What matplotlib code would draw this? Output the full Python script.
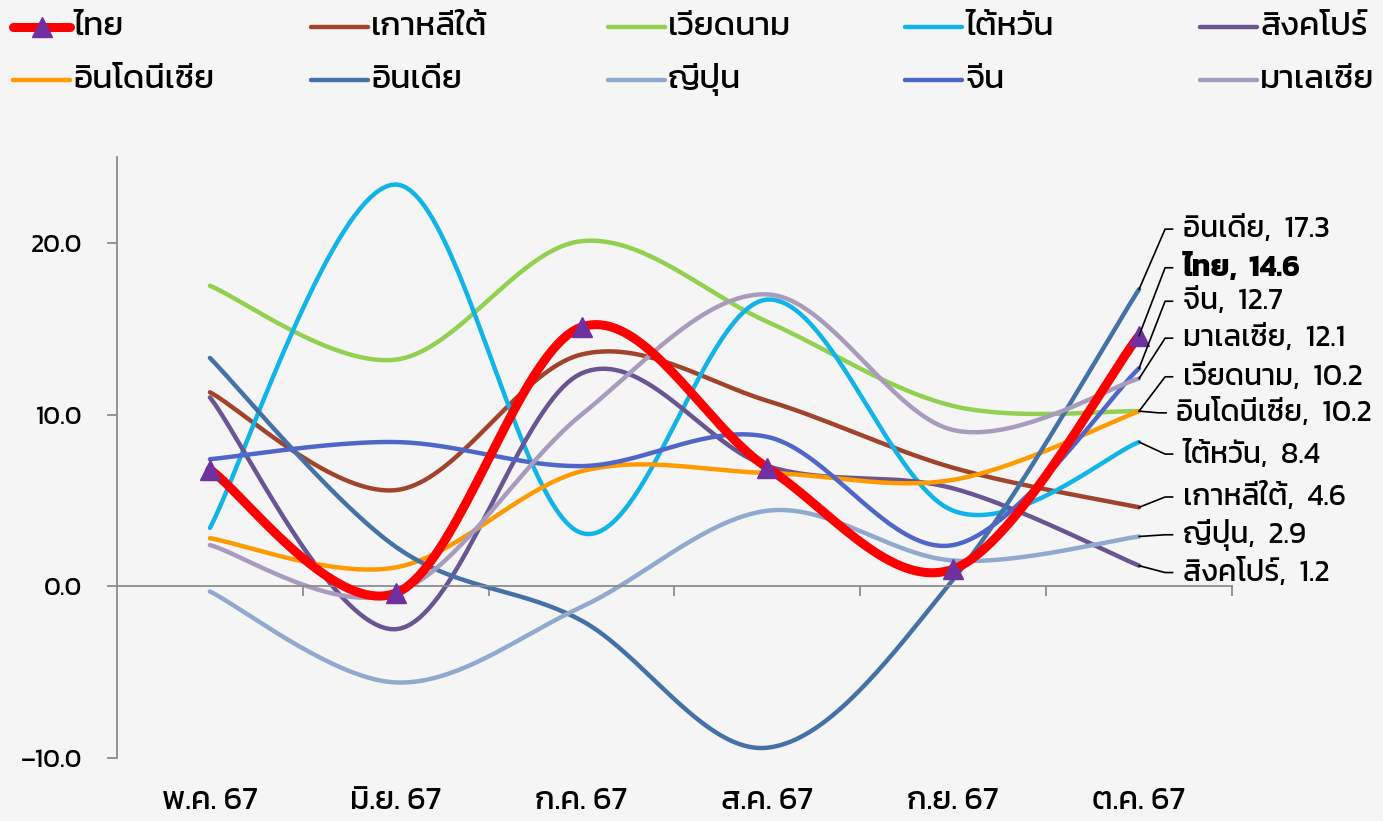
"""
Export growth by country, May-Oct 67 (Thai labels), smoothed Excel-style lines.
"""

import matplotlib

matplotlib.use("Agg")
import matplotlib.pyplot as plt
import numpy as np
from matplotlib import font_manager
from matplotlib.lines import Line2D

# Pick the first installed Thai-capable family; DejaVu catches anything it lacks.
available = {f.name for f in font_manager.fontManager.ttflist}
THAI_FONT = next(
    (f for f in ["Kanit", "Prompt", "Mitr", "Bai Jamjuree", "Noto Sans Thai"] if f in available),
    "DejaVu Sans",
)
plt.rcParams["font.family"] = [THAI_FONT, "DejaVu Sans"]

months = ["พ.ค. 67", "มิ.ย. 67", "ก.ค. 67", "ส.ค. 67", "ก.ย. 67", "ต.ค. 67"]

thailand = [6.8, -0.4, 15.1, 6.9, 1.0, 14.6]
korea = [11.3, 5.6, 13.5, 10.8, 6.9, 4.6]
vietnam = [17.5, 13.2, 20.1, 15.4, 10.5, 10.2]
taiwan = [3.4, 23.4, 3.1, 16.7, 4.4, 8.4]
singapore = [11.0, -2.5, 12.4, 7.0, 5.7, 1.2]
indonesia = [2.8, 1.1, 6.7, 6.6, 6.2, 10.2]
india = [13.3, 2.3, -2.0, -9.4, 0.4, 17.3]
japan = [-0.3, -5.6, -1.2, 4.4, 1.5, 2.9]
china = [7.4, 8.4, 7.0, 8.7, 2.4, 12.7]
malaysia = [2.4, -0.4, 10.0, 17.0, 9.1, 12.1]

BG = "#F5F5F5"
SPINE = "#8C8C8C"

# name, values, colour - in legend order (row by row)
series = [
    ("ไทย", thailand, "#FF0000"),
    ("เกาหลีใต้", korea, "#A0442B"),
    ("เวียดนาม", vietnam, "#92D050"),
    ("ไต้หวัน", taiwan, "#10B4E8"),
    ("สิงคโปร์", singapore, "#6A5593"),
    ("อินโดนีเซีย", indonesia, "#FF9A00"),
    ("อินเดีย", india, "#4472A6"),
    ("ญี่ปุ่น", japan, "#8FA9CF"),
    ("จีน", china, "#4F66C8"),
    ("มาเลเซีย", malaysia, "#A99BBE"),
]

# Right-hand data labels: vertical slot (data units) for each country, top to bottom.
label_order = ["อินเดีย", "ไทย", "จีน", "มาเลเซีย", "เวียดนาม",
               "อินโดนีเซีย", "ไต้หวัน", "เกาหลีใต้", "ญี่ปุ่น", "สิงคโปร์"]
label_y = [20.8, 18.55, 16.6, 14.45, 12.2, 10.1, 7.7, 5.2, 3.0, 0.8]


def smooth(x, y, n=40):
    """Excel-like smoothed line: cubic Bezier through every point, 1/6 tangents."""
    pts = np.column_stack([x, y]).astype(float)
    P = np.vstack([pts[0], pts, pts[-1]])
    t = np.linspace(0, 1, n)[:, None]
    out = []
    for i in range(1, len(P) - 2):
        p0, p1, p2, p3 = P[i - 1], P[i], P[i + 1], P[i + 2]
        c1 = p1 + (p2 - p0) / 6
        c2 = p2 - (p3 - p1) / 6
        seg = (1 - t) ** 3 * p1 + 3 * (1 - t) ** 2 * t * c1 + 3 * (1 - t) * t ** 2 * c2 + t ** 3 * p2
        out.append(seg if i == 1 else seg[1:])
    return np.vstack(out)


fig = plt.figure(figsize=(13.83, 8.21), dpi=100, facecolor=BG)
ax = fig.add_axes([117 / 1383, 1 - 758 / 821, (1232 - 117) / 1383, (758 - 157) / 821])
ax.set_facecolor(BG)

x = np.arange(len(months))

# Draw others first, Thailand on top
for name, vals, color in series[1:]:
    curve = smooth(x, vals)
    ax.plot(curve[:, 0], curve[:, 1], color=color, lw=3.2, solid_capstyle="round", zorder=2)

curve = smooth(x, thailand)
ax.plot(curve[:, 0], curve[:, 1], color="#FF0000", lw=6.5, solid_capstyle="round", zorder=3)
ax.plot(x, thailand, ls="none", marker="^", ms=14, color="#7030A0", zorder=4)

ax.set_xlim(-0.5, 5.5)
ax.set_ylim(-10, 25)

# axes styling: left spine + category axis crossing at zero
for side in ["top", "right"]:
    ax.spines[side].set_visible(False)
ax.spines["left"].set_color(SPINE)
ax.spines["left"].set_linewidth(1.3)
ax.spines["left"].set_bounds(-10, 25)
ax.spines["bottom"].set_position(("data", 0))
ax.spines["bottom"].set_color(SPINE)
ax.spines["bottom"].set_linewidth(1.3)

yt = [-10, 0, 10, 20]
ax.set_yticks(yt)
ax.set_yticklabels([f"{v:.1f}".replace("-", "–") for v in yt], fontsize=18.5)
ax.set_xticks(np.arange(0.5, 6, 1))
ax.set_xticklabels([])
ax.tick_params(axis="both", direction="out", length=7, width=1.3, color=SPINE)
ax.tick_params(axis="y", pad=18)

# Month labels sit low, under the plot area (kept just inside the bottom edge)
for xi, m in zip(x, months):
    ax.text(xi, -0.072, m, transform=ax.get_xaxis_transform(), ha="center", va="center",
            fontsize=23)

# Data labels with elbow leaders on the right
last = {name: vals[-1] for name, vals, _ in series}
for name, ly in zip(label_order, label_y):
    v = last[name]
    bold = name == "ไทย"
    tx = 5.20 if name == "อินโดนีเซีย" else 5.235
    ax.plot([5, tx - 0.095, tx - 0.055], [v, ly, ly], color="black", lw=1.2,
            clip_on=False, zorder=5)
    ax.text(tx, ly, f"{name},  {v:.1f}", ha="left", va="center", fontsize=21.5,
            fontweight="bold" if bold else "normal", clip_on=False)

# Legend, laid out on a fixed grid like the source
W, H = 1383, 821
col_x = [13, 311, 608, 905, 1200]
row_y = [27.5, 80]
for i, (name, vals, color) in enumerate(series):
    cx = col_x[i % 5]
    cy = H - row_y[i // 5]
    lw = 6.5 if i == 0 else 3.2
    fig.add_artist(Line2D([cx / W, (cx + 57) / W], [cy / H, cy / H], color=color, lw=lw,
                          solid_capstyle="round", transform=fig.transFigure))
    if i == 0:
        fig.add_artist(Line2D([(cx + 29) / W], [cy / H], marker="^", ms=14, color="#7030A0",
                              transform=fig.transFigure))
    fig.text((cx + 60) / W, cy / H, name, ha="left", va="center", fontsize=24)

fig.savefig("out.png", dpi=100, facecolor=BG)
